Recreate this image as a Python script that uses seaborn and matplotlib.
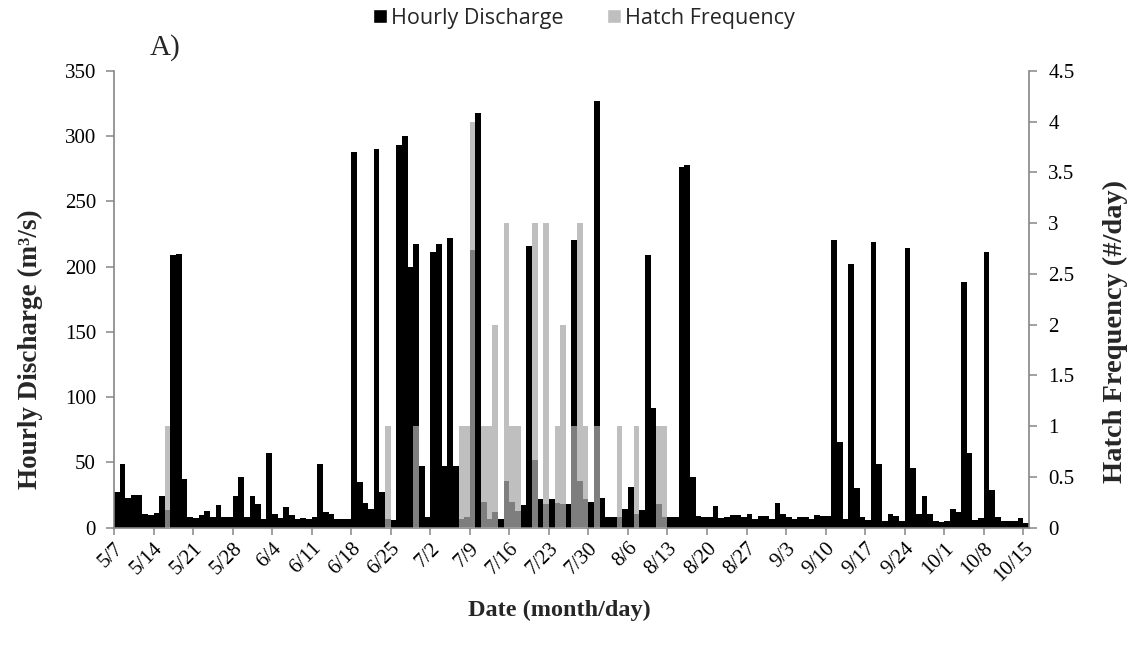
import numpy as np
import pandas as pd
import matplotlib
matplotlib.use("Agg")
import matplotlib.pyplot as plt
from matplotlib.patches import Patch
import seaborn as sns

# ---- data -------------------------------------------------------------
dates = pd.date_range("2013-05-07", "2013-10-15", freq="D")
date_labels = [f"{d.month}/{d.day}" for d in dates]

discharge = [
    27, 48.5, 23, 25, 25, 10.5, 10, 11.5, 24, 13.5,
    209, 210, 37, 8, 7.7, 9.5, 12.5, 8, 17.4, 8.4,
    8, 24, 39, 8.4, 24, 18, 7, 57, 10.5, 7.7,
    16, 9.5, 7, 7.7, 7, 8, 49, 12, 10.5, 7,
    7, 7, 288, 35, 19, 14, 290, 27, 7, 6,
    293, 300, 200, 217, 47, 8, 211, 217.5, 47.5, 222,
    47.5, 6.4, 8, 213, 318, 20, 7, 11.7, 7, 36,
    20, 13, 17.4, 216, 52, 21.7, 18, 21.7, 19, 18,
    18, 220, 36, 21.7, 19.4, 327, 22.5, 8, 8.4, 8,
    14, 31.4, 10.5, 13.5, 209, 92, 18, 8, 8, 8,
    276, 278, 38.5, 9, 8, 8.4, 16.6, 7.7, 8, 9.5,
    9.5, 8, 10.5, 6.4, 9, 9, 6.4, 18.6, 10.5, 8.4,
    7, 8.4, 8.4, 6.4, 10, 9, 9, 220.5, 66, 6.4,
    201.7, 30.6, 8, 6, 219, 49, 5.4, 10.5, 9, 5,
    214.5, 45.4, 10.5, 24, 10.5, 5, 4.3, 5, 14.5, 12,
    188, 57, 6, 7.7, 211, 29, 8.4, 5, 5, 5,
    7.7, 3.3,
]

hatch = [
    0, 0, 0, 0, 0, 0, 0, 0, 0, 1,
    0, 0, 0, 0, 0, 0, 0, 0, 0, 0,
    0, 0, 0, 0, 0, 0, 0, 0, 0, 0,
    0, 0, 0, 0, 0, 0, 0, 0, 0, 0,
    0, 0, 0, 0, 0, 0, 0, 0, 1, 0,
    0, 0, 0, 1, 0, 0, 0, 0, 0, 0,
    0, 1, 1, 4, 0, 1, 1, 2, 0, 3,
    1, 1, 0, 0, 3, 0, 3, 0, 1, 2,
    0, 1, 3, 1, 0, 1, 0, 0, 0, 1,
    0, 0, 1, 0, 0, 0, 1, 1, 0, 0,
    0, 0, 0, 0, 0, 0, 0, 0, 0, 0,
    0, 0, 0, 0, 0, 0, 0, 0, 0, 0,
    0, 0, 0, 0, 0, 0, 0, 0, 0, 0,
    0, 0, 0, 0, 0, 0, 0, 0, 0, 0,
    0, 0, 0, 0, 0, 0, 0, 0, 0, 0,
    0, 0, 0, 0, 0, 0, 0, 0, 0, 0,
    0, 0,
]

tick_labels = ["5/7", "5/14", "5/21", "5/28", "6/4", "6/11", "6/18", "6/25",
               "7/2", "7/9", "7/16", "7/23", "7/30", "8/6", "8/13", "8/20",
               "8/27", "9/3", "9/10", "9/17", "9/24", "10/1", "10/8", "10/15"]

left_ticks = [0, 50, 100, 150, 200, 250, 300, 350]
right_ticks = [0, 0.5, 1, 1.5, 2, 2.5, 3, 3.5, 4, 4.5]
right_tick_labels = ["0", "0.5", "1", "1.5", "2", "2.5", "3", "3.5", "4", "4.5"]

df = pd.DataFrame({"date": date_labels, "discharge": discharge, "hatch": hatch})

# ---- style ------------------------------------------------------------
sns.set_theme(style="white")
plt.rcParams["font.family"] = ["Liberation Serif", "DejaVu Serif"]
SPINE = "#868686"

fig = plt.figure(figsize=(11.4, 6.55), dpi=100)
ax = fig.add_axes([0.1, 0.1944, 0.8026, 0.6976])

sns.barplot(data=df, x="date", y="discharge", order=date_labels, color="black",
            width=1.0, errorbar=None, saturation=1, linewidth=0, ax=ax)
ax2 = ax.twinx()
sns.barplot(data=df, x="date", y="hatch", order=date_labels, color="#aaaaaa",
            alpha=0.75, width=1.0, errorbar=None, saturation=1, linewidth=0, ax=ax2)

n = len(date_labels)
tick_pos = [i * 7 - 0.5 for i in range(len(tick_labels))]
ax.set_xlim(-0.5, n - 0.5)
ax.set_xticks(tick_pos)
ax.set_xticklabels(tick_labels, rotation=45, ha="right", rotation_mode="anchor",
                   fontsize=15)

ax.set_ylim(0, 350)
ax.set_yticks(left_ticks)
ax.set_yticklabels([str(t) for t in left_ticks], fontsize=15)
ax2.set_ylim(0, 4.5)
ax2.set_yticks(right_ticks)
ax2.set_yticklabels(right_tick_labels, fontsize=15)

for a in (ax, ax2):
    a.grid(False)
    a.spines["top"].set_visible(False)
    for s in ("left", "right", "bottom"):
        a.spines[s].set_color(SPINE)
        a.spines[s].set_linewidth(1.2)
ax.spines["right"].set_visible(False)
ax2.spines["left"].set_visible(False)
ax2.spines["bottom"].set_visible(False)

ax.tick_params(axis="x", which="both", bottom=True, direction="out", length=5,
               width=1.1, color=SPINE, pad=3, labelcolor="black")
ax.tick_params(axis="y", left=True, direction="out", length=6, width=1.1,
               color=SPINE, pad=7, labelcolor="black")
ax2.tick_params(axis="y", right=True, direction="out", length=6, width=1.1,
                color=SPINE, pad=8, labelcolor="black")

ax.set_xlabel("Date (month/day)", fontsize=17.5, fontweight="bold")
ax.xaxis.set_label_coords(0.487, -0.157)
ax.set_ylabel("Hourly Discharge (m³/s)", fontsize=19.5, fontweight="bold")
ax.yaxis.set_label_coords(-0.078, 0.39)
ax2.set_xlabel("")
ax2.set_ylabel("Hatch Frequency (#/day)", fontsize=20.5, fontweight="bold",
               rotation=90)
ax2.yaxis.set_label_coords(1.081, 0.43)

fig.text(0.131, 0.928, "A)", fontsize=21, ha="left", va="center")

handles = [Patch(facecolor="black", label="Hourly Discharge"),
           Patch(facecolor="#bfbfbf", label="Hatch Frequency")]
fig.legend(handles=handles, loc="upper center", bbox_to_anchor=(0.512, 1.018),
           ncol=2, frameon=False, prop={"family": "Open Sans", "size": 15.5},
           handlelength=0.65, handleheight=0.65, handletextpad=0.2,
           columnspacing=2.0)

fig.savefig("out.png", dpi=100)
